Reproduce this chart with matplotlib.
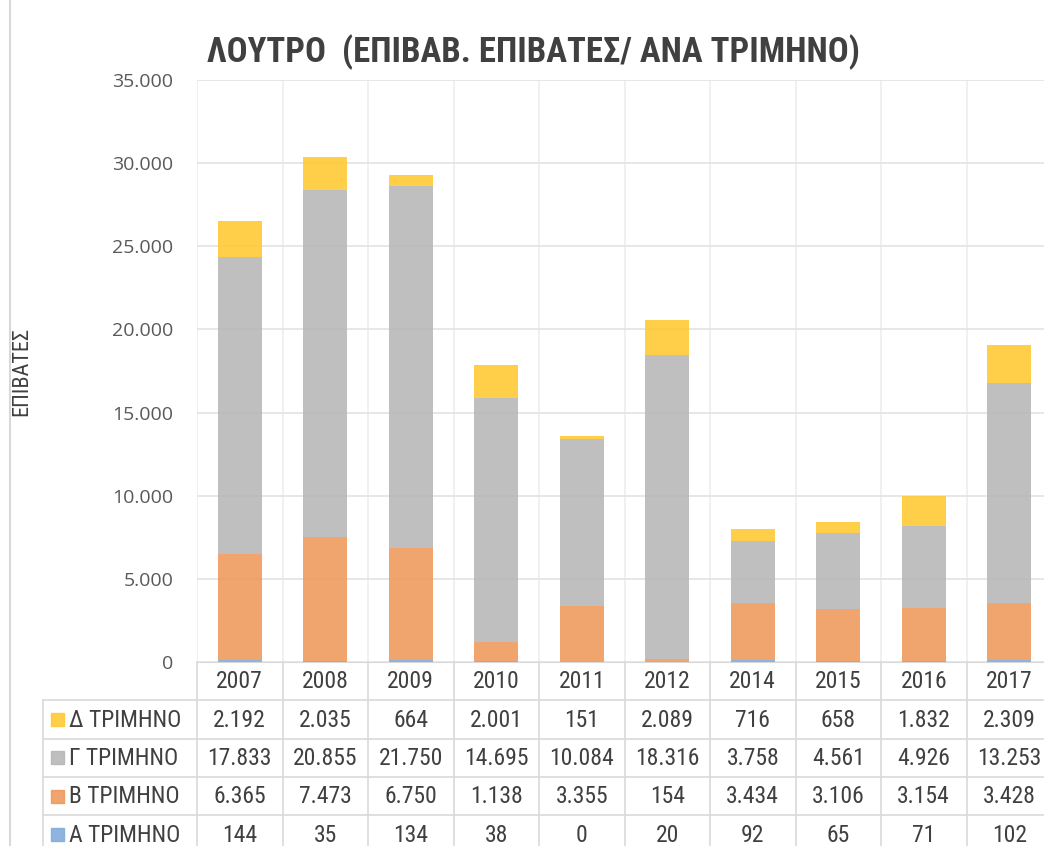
import numpy as np
import matplotlib
matplotlib.use("Agg")
import matplotlib.pyplot as plt
from matplotlib.patches import Rectangle
from matplotlib import font_manager

years = ["2007", "2008", "2009", "2010", "2011", "2012", "2014", "2015", "2016", "2017"]
q_a = [144, 35, 134, 38, 0, 20, 92, 65, 71, 102]
q_b = [6365, 7473, 6750, 1138, 3355, 154, 3434, 3106, 3154, 3428]
q_c = [17833, 20855, 21750, 14695, 10084, 18316, 3758, 4561, 4926, 13253]
q_d = [2192, 2035, 664, 2001, 151, 2089, 716, 658, 1832, 2309]
series_names = ["Α ΤΡΙΜΗΝΟ", "Β ΤΡΙΜΗΝΟ", "Γ ΤΡΙΜΗΝΟ", "Δ ΤΡΙΜΗΝΟ"]
colors = ["#80AADC", "#EE985A", "#B6B6B6", "#FFC931"]
yticks = [0, 5000, 10000, 15000, 20000, 25000, 30000, 35000]

# look for a narrow face (the original uses Calibri)
installed = {f.name for f in font_manager.fontManager.ttflist}
narrow = [n for n in ["Liberation Sans Narrow", "Roboto Condensed", "Open Sans Condensed"]
          if n in installed]
if not narrow:
    narrow = ["Roboto"]
narrow = narrow + ["DejaVu Sans"]
text_col = "#404040"


def fmt(v):
    return f"{v:,}".replace(",", ".")


W, H = 1044, 846
fig = plt.figure(figsize=(W / 100, H / 100), dpi=100)
fig.patch.set_facecolor("white")

# main plot area
x0, x1 = 197, 1052
ax = fig.add_axes([x0 / W, (H - 662) / H, (x1 - x0) / W, (662 - 80) / H])
x = np.arange(len(years))
data = [q_a, q_b, q_c, q_d]
bottom = np.zeros(len(years))
for vals, c in zip(data, colors):
    ax.bar(x, vals, width=0.52, bottom=bottom, color=c, alpha=0.88, zorder=3)
    bottom += np.array(vals)

ax.set_xlim(-0.5, len(years) - 0.5)
ax.set_ylim(0, 35000)
ax.set_yticks(yticks)
ax.set_yticklabels([fmt(v) for v in yticks], fontsize=14, color="#595959",
                   family=["Open Sans", "DejaVu Sans"])
ax.set_xticks([])
ax.tick_params(axis="y", length=0, pad=17)
for s in ["top", "right", "left"]:
    ax.spines[s].set_visible(False)
ax.spines["bottom"].set_color("#D9D9D9")
ax.grid(axis="y", color="#E3E3E3", linewidth=1.2, zorder=0)
for b in np.arange(-0.5, len(years), 1.0):
    ax.axvline(b, color="#EDEDED", linewidth=1.2, zorder=1)
ax.set_ylabel("ΕΠΙΒΑΤΕΣ", fontsize=16, color=text_col, family=narrow)
ax.yaxis.set_label_coords((32 - x0) / (x1 - x0), 0.5)

fig.text(533 / W, 1 - 52 / H, "ΛΟΥΤΡΟ  (ΕΠΙΒΑΒ. ΕΠΙΒΑΤΕΣ/ ΑΝΑ ΤΡΙΜΗΝΟ)",
         ha="center", va="center", fontsize=25, fontweight="bold", color=text_col,
         family=narrow)

# data table under the plot
row_h = 38.3
n_rows = 5
col_px = (x1 - x0) / len(years)
label_w = (x0 - 43) / col_px
tx = fig.add_axes([43 / W, (H - 662 - n_rows * row_h) / H, (x1 - 43) / W,
                   n_rows * row_h / H])
tx.set_xlim(-0.5 - label_w, len(years) - 0.5)
tx.set_ylim(n_rows, 0)
tx.axis("off")
grid_col = "#D9D9D9"
left = -0.5 - label_w
for r in range(1, n_rows + 1):
    tx.plot([left, len(years) - 0.5], [r, r], color=grid_col, lw=1.2, clip_on=False)
for b in np.arange(-0.5, len(years), 1.0):
    tx.plot([b, b], [0, n_rows], color=grid_col, lw=1.2, clip_on=False)
tx.plot([left, left], [1, n_rows], color=grid_col, lw=1.2, clip_on=False)

for i, yr in enumerate(years):
    tx.text(i, 0.52, yr, ha="center", va="center", fontsize=17, color=text_col, family=narrow)

sq_w, sq_h = 13 / col_px, 13 / row_h
rows = list(zip(series_names, data, colors))[::-1]
for r, (name, vals, c) in enumerate(rows, start=1):
    tx.add_patch(Rectangle((left + 8 / col_px, r + 0.5 - sq_h / 2), sq_w, sq_h,
                           color=c, alpha=0.88))
    tx.text(left + 26 / col_px, r + 0.52, name, ha="left", va="center", fontsize=17,
            color=text_col, family=narrow)
    for i, v in enumerate(vals):
        tx.text(i, r + 0.52, fmt(v), ha="center", va="center", fontsize=17,
                color=text_col, family=narrow)

fig.add_artist(plt.Line2D([10 / W, 10 / W], [0, 1], color="#D9D9D9", lw=1.5))

fig.savefig("out.png", dpi=100)
